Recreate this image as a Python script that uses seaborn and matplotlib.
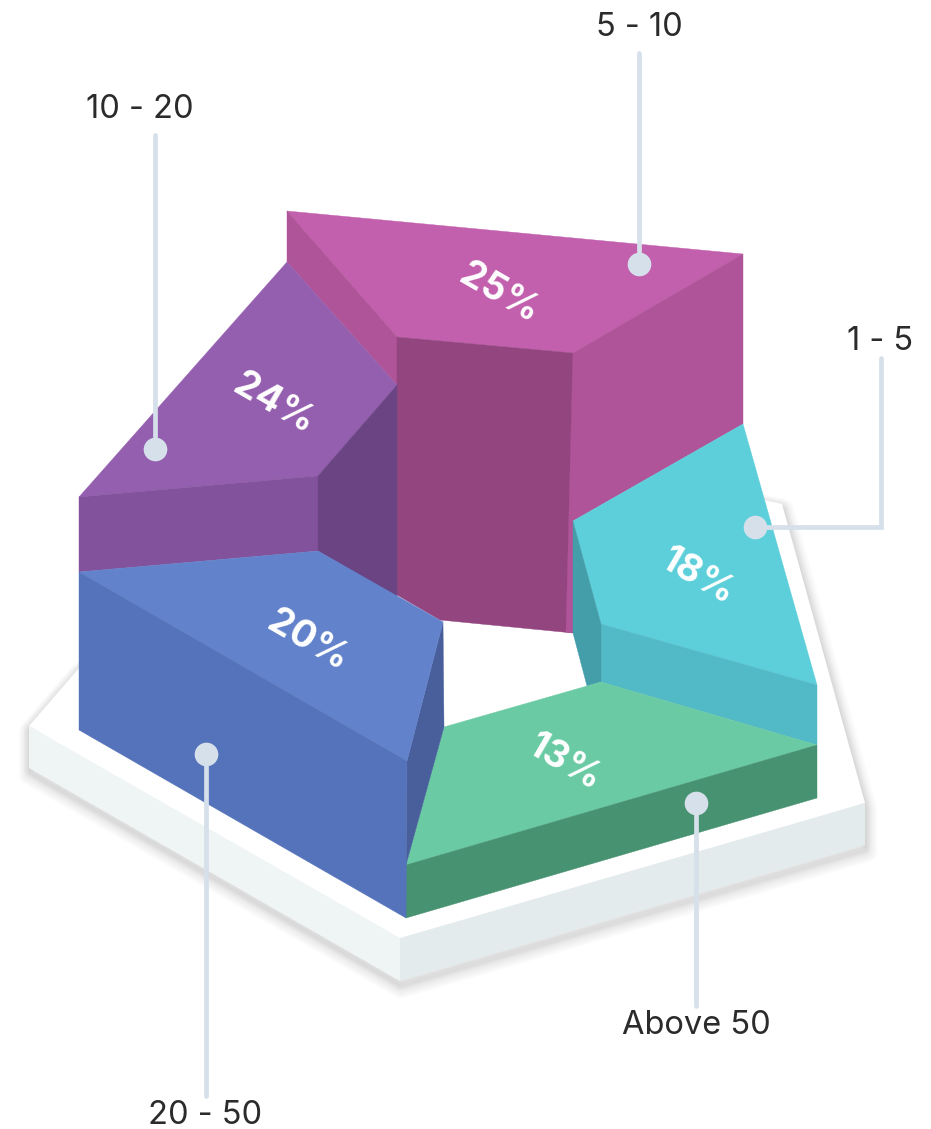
import matplotlib
matplotlib.use('Agg')
import matplotlib.pyplot as plt
import pandas as pd
import seaborn as sns

# chart values
categories = ['5 - 10', '10 - 20', '1 - 5', 'Above 50', '20 - 50']
shares = [25, 24, 18, 13, 20]

top_colors = ['#C260AE', '#955FB0', '#5DCFDA', '#6ACAA3', '#6282CB']
side_colors = ['#AF5498', '#82539C', '#52B9C6', '#479270', '#5573BA']
inner_colors = ['#934580', '#6B4483', '#449EAA', '#479270', '#485F9C']

# label and callout placement, in picture pixels
share_xy = [(499, 294), (274, 404), (697, 577), (564, 763), (308, 641)]
dot_x = [639, 155, 755, 696, 206]
dot_y = [264, 449, 527, 803, 754]
callout_paths = [
    [(639, 264), (639, 53)],
    [(155, 449), (155, 135)],
    [(755, 527), (881, 527), (881, 358)],
    [(696, 803), (696, 1006)],
    [(206, 754), (206, 1096)],
]
category_xy = [(639, 28), (140, 109), (880, 341), (696, 1026), (205, 1115)]

# isometric faces, drawn back to front
magenta_faces = [
    ('top', [(287, 211), (743, 254), (573, 353), (397, 337)]),
    ('side', [(287, 211), (397, 337), (397, 385), (287, 262)]),
    ('inner', [(397, 337), (573, 353), (573, 633), (440, 620), (397, 595)]),
    ('side', [(573, 353), (743, 254), (743, 424), (573, 521), (573, 633), (566, 632)]),
]
purple_faces = [
    ('top', [(287, 262), (397, 385), (318, 476), (79, 497)]),
    ('side', [(79, 497), (318, 476), (318, 551), (79, 572)]),
    ('inner', [(318, 476), (397, 385), (397, 597), (318, 551)]),
]
cyan_faces = [
    ('top', [(743, 424), (817, 685), (601, 624), (573, 521)]),
    ('side', [(601, 624), (817, 685), (817, 745), (601, 682)]),
    ('inner', [(573, 521), (601, 624), (601, 682), (587, 686), (573, 633)]),
]
green_faces = [
    ('top', [(601, 682), (817, 745), (406, 865), (444, 727)]),
    ('side', [(406, 865), (817, 745), (817, 798), (406, 918)]),
]
blue_faces = [
    ('inner', [(443, 622), (407, 761), (406, 865), (444, 727)]),
    ('top', [(79, 572), (318, 551), (443, 622), (407, 761)]),
    ('side', [(79, 572), (407, 761), (406, 918), (79, 730)]),
]
segment_faces = [magenta_faces, purple_faces, cyan_faces, green_faces, blue_faces]

plate_top = [(29, 726), (400, 938), (865, 803), (782, 504), (400, 420), (79, 668)]
plate_left = [(29, 726), (400, 938), (400, 981), (29, 768)]
plate_right = [(400, 938), (865, 803), (865, 845), (400, 981)]
plate_outline = [(29, 726), (29, 768), (400, 981), (865, 845), (865, 803), (782, 504), (400, 420), (79, 668)]

sns.set_theme(style='white')
plt.rcParams['font.family'] = ['Inter', 'DejaVu Sans']

fig, ax = plt.subplots(figsize=(9.31, 11.29), dpi=100)
ax.set_position([0, 0, 1, 1])

# soft shadow under the plate, thicker layers reach further out
xs, ys = zip(*plate_outline)
for w in range(1, 15):
    ax.fill(xs, [y + 2 for y in ys], facecolor='none', edgecolor='black',
            lw=w * 0.7, alpha=0.005, zorder=1, joinstyle='round')
for w in range(1, 15):
    ax.fill([x + 1 for x in xs], [y + 6 for y in ys], facecolor='none', edgecolor='black',
            lw=w * 1.2, alpha=0.008, zorder=1, joinstyle='round')

ax.fill(*zip(*plate_top), color='white', lw=0, zorder=2)
ax.fill(*zip(*plate_left), color='#EFF4F4', lw=0, zorder=2)
ax.fill(*zip(*plate_right), color='#E4EBED', lw=0, zorder=2)

for faces, top, side, inner in zip(segment_faces, top_colors, side_colors, inner_colors):
    face_colors = {'top': top, 'side': side, 'inner': inner}
    for kind, points in faces:
        ax.fill(*zip(*points), color=face_colors[kind], lw=0.3, zorder=3)

for share, (x, y) in zip(shares, share_xy):
    ax.text(x, y, f'{share}%', color='white', fontsize=27, fontweight='bold',
            rotation=-30, rotation_mode='anchor', ha='center', va='center', zorder=4)

for path in callout_paths:
    ax.plot(*zip(*path), color='#D6E0EA', lw=3.4, solid_joinstyle='miter', zorder=5)

dots = pd.DataFrame({'x': dot_x, 'y': dot_y, 'category': categories})
sns.scatterplot(data=dots, x='x', y='y', color='#D6E0EA', s=290, linewidth=0,
                legend=False, ax=ax, zorder=6)
ax.set_xlim(0, 931)
ax.set_ylim(1129, 0)
ax.axis('off')

for category, (x, y) in zip(categories, category_xy):
    ax.text(x, y, category, color='#2B2B2B', fontsize=23.5, ha='center', va='center', zorder=7)

fig.savefig('out.png', dpi=100)
